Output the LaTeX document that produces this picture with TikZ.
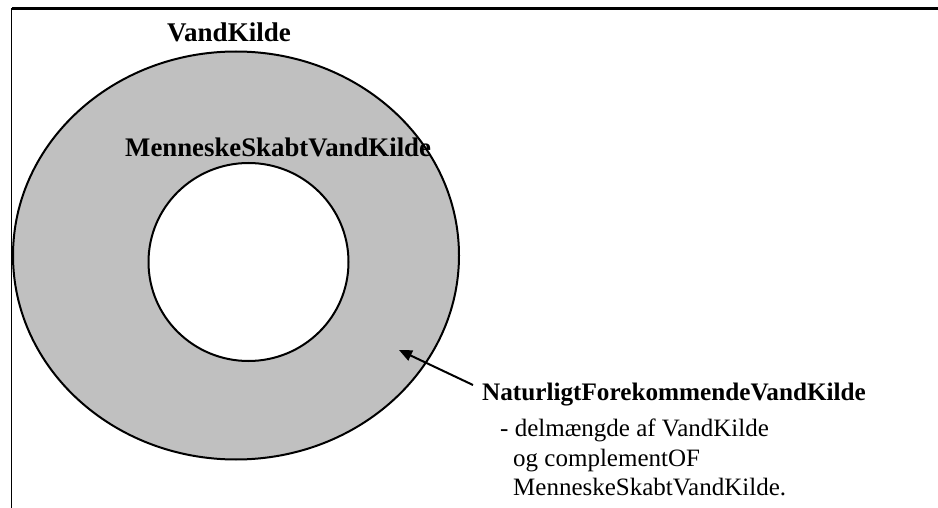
\documentclass[tikz,border=0pt]{standalone}
\usepackage{fontspec}
\setmainfont{Liberation Serif}
\usetikzlibrary{arrows.meta}
\begin{document}
\begin{tikzpicture}[x=1pt,y=-1pt,
  setfill/.style={fill={rgb,255:red,192;green,192;blue,192}},
  setline/.style={draw=black,line width=2pt},
  lbl/.style={anchor=base west,inner sep=0pt,font=\fontsize{25}{30}\selectfont},
  lblbold/.style={lbl,font=\fontsize{#1}{30}\selectfont\bfseries},
  pointer/.style={line width=2pt,-{Triangle[length=13pt,width=11pt]}}]
\useasboundingbox (0,0) rectangle (938,508);
% open frame: top and left edges only
\draw[line width=2.4pt] (938,8.7) -- (11.5,8.7);
\draw[line width=1.8pt] (11.5,8) -- (11.5,508);
% the set VandKilde with the hole MenneskeSkabtVandKilde
\draw[setline,setfill] (236,255.5) ellipse [x radius=223pt, y radius=204pt];
\draw[setline,fill=white] (248.5,262) ellipse [x radius=100pt, y radius=99pt];
% labels
\node[lblbold=27] (vk) at (167,42) {VandKilde};
\node[lblbold=26.8] (msvk) at (125,157) {MenneskeSkabtVandKilde};
\node[lblbold=25.2] (nfvk) at (482,400) {NaturligtForekommendeVandKilde};
\node[lbl] (d1) at (500,436) {- delmængde af VandKilde};
\node[lbl] (d2) at (513,466) {og complementOF};
\node[lbl] (d3) at (513,495) {MenneskeSkabtVandKilde.};
% pointer into the ring
\coordinate (tail) at (473,385);
\coordinate (tip) at (399,350);
\draw[pointer] (tail) -- (tip);
\end{tikzpicture}
\end{document}
